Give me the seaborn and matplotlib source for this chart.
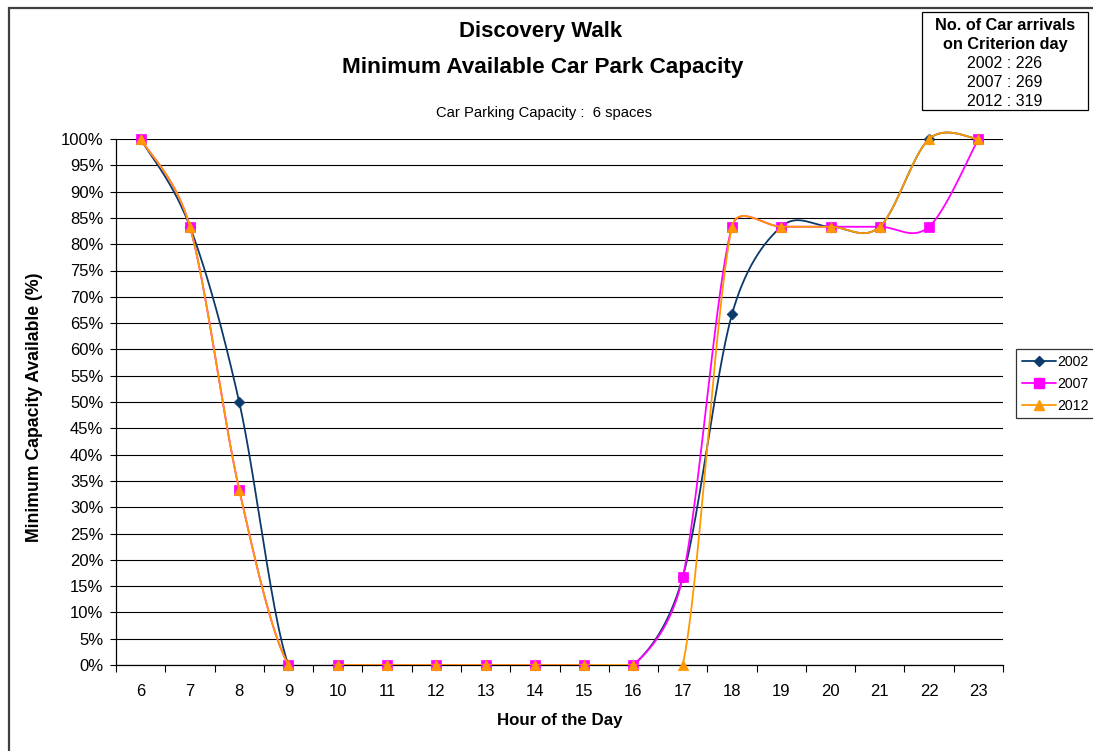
import numpy as np
import pandas as pd
import matplotlib
matplotlib.use("Agg")
import matplotlib.pyplot as plt
from matplotlib.lines import Line2D
from matplotlib.patches import Rectangle
from matplotlib.transforms import Bbox, TransformedBbox
from matplotlib.ticker import FuncFormatter
import seaborn as sns

# Hourly minimum available capacity (%), 6 spaces in total
hours = list(range(6, 24))
cap_2002 = [100, 83.33, 50, 0, 0, 0, 0, 0, 0, 0, 0, 16.67, 66.67, 83.33, 83.33, 83.33, 100, 100]
cap_2007 = [100, 83.33, 33.33, 0, 0, 0, 0, 0, 0, 0, 0, 16.67, 83.33, 83.33, 83.33, 83.33, 83.33, 100]
cap_2012 = [100, 83.33, 33.33, 0, 0, 0, 0, 0, 0, 0, 0, 0, 83.33, 83.33, 83.33, 83.33, 100, 100]

years = ["2002", "2007", "2012"]
arrivals = [226, 269, 319]
series = [cap_2002, cap_2007, cap_2012]
colors = ["#0B3A6B", "#FF00FF", "#FF9900"]
markers = ["D", "s", "^"]
msizes = [5.5, 6.5, 7.5]


def smooth(ax, x, y, n=60):
    """Smoothed line through the points (Catmull-Rom Bezier in screen space,
    each control arm limited to half of its own segment)."""
    P = ax.transData.transform(np.column_stack([x, y]).astype(float))
    N = len(P)
    arms = np.array([(P[min(i + 1, N - 1)] - P[max(i - 1, 0)]) / 6.0 for i in range(N)])

    def capped(v, limit):
        L = np.hypot(*v)
        return v * (limit / L) if L > limit and L > 0 else v

    t = np.linspace(0, 1, n, endpoint=False)[:, None]
    pieces = []
    for i in range(N - 1):
        p1, p2 = P[i], P[i + 1]
        half = 0.5 * np.hypot(*(p2 - p1))
        c1 = p1 + capped(arms[i], half)
        c2 = p2 - capped(arms[i + 1], half)
        seg = ((1 - t) ** 3) * p1 + 3 * ((1 - t) ** 2) * t * c1 + 3 * (1 - t) * t ** 2 * c2 + t ** 3 * p2
        pieces.append(seg)
    pieces.append(P[-1:])
    curve = ax.transData.inverted().transform(np.vstack(pieces))
    return curve[:, 0], curve[:, 1]


sns.set_style("white")
plt.rcParams["font.family"] = ["Liberation Sans", "DejaVu Sans"]
plt.rcParams.update({"text.color": "black", "axes.labelcolor": "black",
                     "xtick.color": "black", "ytick.color": "black"})

W, H = 1093, 751
fig = plt.figure(figsize=(W / 100, H / 100), dpi=100)
fig.patch.set_facecolor("white")

# chart frame
fig.patches.append(Rectangle((9 / W, -0.1), 1.2, 1 - 8 / H + 0.1, transform=fig.transFigure,
                             fill=False, edgecolor="#404040", linewidth=1.6))

ax = fig.add_axes([116 / W, 1 - 665 / H, (1003 - 116) / W, (665 - 139) / H])
ax.set_xlim(5.5, 23.5)
ax.set_ylim(0, 100)

clip = TransformedBbox(Bbox([[5.5, 0], [23.5, 104]]), ax.transData)

for k, (yr, vals) in enumerate(zip(years, series)):
    sx, sy = smooth(ax, hours, vals)
    df_s = pd.DataFrame({"hour": sx, "cap": sy})
    sns.lineplot(data=df_s, x="hour", y="cap", ax=ax, color=colors[k], linewidth=1.3,
                 sort=False, estimator=None, zorder=3 + k)
    ax.lines[-1].set_clip_box(clip)
    df_p = pd.DataFrame({"hour": hours, "cap": vals})
    sns.scatterplot(data=df_p, x="hour", y="cap", ax=ax, marker=markers[k], color=colors[k],
                    s=msizes[k] ** 2, edgecolor=colors[k], linewidth=0.5, zorder=3.5 + k,
                    clip_on=False, legend=False)

# axes styling
ax.set_yticks(np.arange(0, 101, 5))
ax.yaxis.set_major_formatter(FuncFormatter(lambda v, p: f"{int(round(v))}%"))
ax.yaxis.grid(True, color="black", linewidth=0.8)
ax.xaxis.grid(False)
ax.set_axisbelow(True)
ax.set_xticks(np.arange(5.5, 24, 1))
ax.set_xticklabels([])
ax.set_xticks(hours, minor=True)
ax.set_xticklabels([str(h) for h in hours], minor=True)
ax.tick_params(axis="x", which="major", direction="out", length=5, width=0.8, color="black")
ax.tick_params(axis="x", which="minor", length=0, pad=14, labelsize=12)
ax.tick_params(axis="y", direction="out", length=4, width=0.8, color="black", pad=5, labelsize=12)
ax.tick_params(left=True, bottom=True)
for s in ["top", "right"]:
    ax.spines[s].set_visible(False)
for s in ["left", "bottom"]:
    ax.spines[s].set_color("black")
    ax.spines[s].set_linewidth(0.9)
ax.set_xlabel("")
ax.set_ylabel("")

# titles and axis labels
fig.text(541 / W, 1 - 32 / H, "Discovery Walk", ha="center", va="center", fontsize=16, fontweight="bold")
fig.text(543 / W, 1 - 67 / H, "Minimum Available Car Park Capacity", ha="center", va="center",
         fontsize=16.2, fontweight="bold")
fig.text(544 / W, 1 - 113 / H, "Car Parking Capacity :  6 spaces", ha="center", va="center", fontsize=10.6)
fig.text(560 / W, 1 - 720 / H, "Hour of the Day", ha="center", va="center", fontsize=12.2, fontweight="bold")
fig.text(35 / W, 1 - 407 / H, "Minimum Capacity Available (%)", ha="center", va="center",
         rotation=90, fontsize=12.7, fontweight="bold")

# arrivals box
fig.patches.append(Rectangle((922 / W, 1 - 110 / H), (1088 - 922) / W, (110 - 12) / H,
                             transform=fig.transFigure, fill=False, edgecolor="black", linewidth=0.9))
bx = 1005 / W
fig.text(bx, 1 - 30.5 / H, "No. of Car arrivals", ha="center", va="baseline", fontsize=11.7, fontweight="bold")
fig.text(bx, 1 - 49.5 / H, "on Criterion day", ha="center", va="baseline", fontsize=11.7, fontweight="bold")
for j, (yr, n) in enumerate(zip(years, arrivals)):
    fig.text(bx, 1 - (68.5 + 18.5 * j) / H, f"{yr} : {n}", ha="center", va="baseline", fontsize=11.5)

# legend
handles = [Line2D([0], [0], color=c, marker=m, markersize=ms, linewidth=1.3,
                  markerfacecolor=c, markeredgecolor=c) for c, m, ms in zip(colors, markers, msizes)]
leg = fig.legend(handles, years, loc="upper left", bbox_to_anchor=(1016 / W, 1 - 349 / H),
                 frameon=True, fancybox=False, fontsize=10.2, handlelength=2.4, handletextpad=0.12,
                 borderpad=0.42, labelspacing=0.55, borderaxespad=0)
leg.get_frame().set_edgecolor("black")
leg.get_frame().set_linewidth(0.9)

fig.savefig("out.png", dpi=100, facecolor="white")
